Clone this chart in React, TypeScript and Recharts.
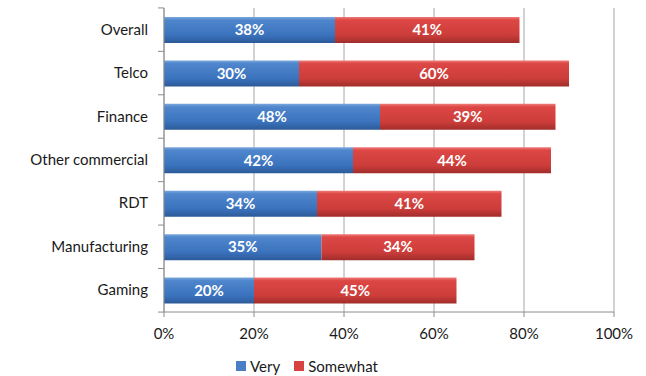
import React from 'react'
import { BarChart, Bar, XAxis, YAxis, CartesianGrid, Legend, LabelList } from 'recharts'

const categories = ['Overall', 'Telco', 'Finance', 'Other commercial', 'RDT', 'Manufacturing', 'Gaming']
const veryValues = [38, 30, 48, 42, 34, 35, 20]
const somewhatValues = [41, 60, 39, 44, 41, 34, 45]
const xTicks = [0, 20, 40, 60, 80, 100]
const seriesNames = ['Very', 'Somewhat']
const seriesColors = ['#4a7fc6', '#d64340']

const FONT = 'Lato, "Open Sans", sans-serif'
const W = 646
const H = 376
const PLOT_TOP = 8
const PLOT_BOTTOM = 313
const BAND = (PLOT_BOTTOM - PLOT_TOP) / categories.length

const data = categories.map((name, i) => ({
  name,
  very: veryValues[i],
  somewhat: somewhatValues[i],
}))

function CategoryTick(props: any) {
  const { x, y, payload, index } = props
  const axisX = x + 8
  return (
    <g>
      <text x={x - 8} y={y} dy={5} textAnchor="end" fontSize={15} fill="#1a1a1a" fontFamily={FONT}>
        {payload.value}
      </text>
      <line x1={axisX - 6} x2={axisX} y1={y - BAND / 2} y2={y - BAND / 2} stroke="#8c8c8c" />
      {index === categories.length - 1 && (
        <line x1={axisX - 6} x2={axisX} y1={y + BAND / 2} y2={y + BAND / 2} stroke="#8c8c8c" />
      )}
    </g>
  )
}

function PercentTick(props: any) {
  const { x, payload } = props
  return (
    <text x={x} y={PLOT_BOTTOM + 26} textAnchor="middle" fontSize={15} fill="#1a1a1a" fontFamily={FONT}>
      {`${payload.value}%`}
    </text>
  )
}

function LegendContent() {
  return (
    <div style={{ display: 'flex', justifyContent: 'center', gap: 14, fontSize: 15, fontFamily: FONT, color: '#1a1a1a' }}>
      {seriesNames.map((n, i) => (
        <span key={n} style={{ display: 'flex', alignItems: 'center', gap: 4 }}>
          <span style={{ display: 'inline-block', width: 10, height: 10, background: seriesColors[i] }} />
          {n}
        </span>
      ))}
    </div>
  )
}

export default function App() {
  return (
    <div style={{ position: 'absolute', left: 0, top: 0, width: W, height: H, background: '#fff' }}>
      <BarChart
        width={W}
        height={H}
        data={data}
        layout="vertical"
        margin={{ top: PLOT_TOP, right: 32, left: 0, bottom: 16 }}
      >
        <defs>
          <linearGradient id="gradVery" x1="0" y1="0" x2="0" y2="1">
            <stop offset="0%" stopColor="#7aa7dd" />
            <stop offset="12%" stopColor="#4f86cc" />
            <stop offset="70%" stopColor="#3a72bd" />
            <stop offset="100%" stopColor="#2c5a98" />
          </linearGradient>
          <linearGradient id="gradSomewhat" x1="0" y1="0" x2="0" y2="1">
            <stop offset="0%" stopColor="#ee7b78" />
            <stop offset="12%" stopColor="#dc4744" />
            <stop offset="70%" stopColor="#cc3d3a" />
            <stop offset="100%" stopColor="#a02d2b" />
          </linearGradient>
        </defs>
        <CartesianGrid horizontal={false} stroke="#a6a6a6" />
        <XAxis
          type="number"
          domain={[0, 100]}
          ticks={xTicks}
          tick={<PercentTick />}
          axisLine={{ stroke: '#8c8c8c' }}
          tickLine={{ stroke: '#8c8c8c' }}
          tickSize={5}
          height={30}
        />
        <YAxis
          type="category"
          dataKey="name"
          width={164}
          axisLine={{ stroke: '#8c8c8c' }}
          tickLine={false}
          tick={<CategoryTick />}
        />
        <Legend
          verticalAlign="bottom"
          align="center"
          content={<LegendContent />}
          wrapperStyle={{ top: 357, bottom: 'auto', height: 18 }}
        />
        <Bar dataKey="very" name="Very" stackId="a" barSize={26} fill="url(#gradVery)" isAnimationActive={false}>
          <LabelList
            dataKey="very"
            position="center"
            formatter={(v: number) => `${v}%`}
            fill="#ffffff"
            fontWeight="bold"
            fontSize={15}
            fontFamily={FONT}
          />
        </Bar>
        <Bar dataKey="somewhat" name="Somewhat" stackId="a" barSize={26} fill="url(#gradSomewhat)" isAnimationActive={false}>
          <LabelList
            dataKey="somewhat"
            position="center"
            formatter={(v: number) => `${v}%`}
            fill="#ffffff"
            fontWeight="bold"
            fontSize={15}
            fontFamily={FONT}
          />
        </Bar>
      </BarChart>
    </div>
  )
}
